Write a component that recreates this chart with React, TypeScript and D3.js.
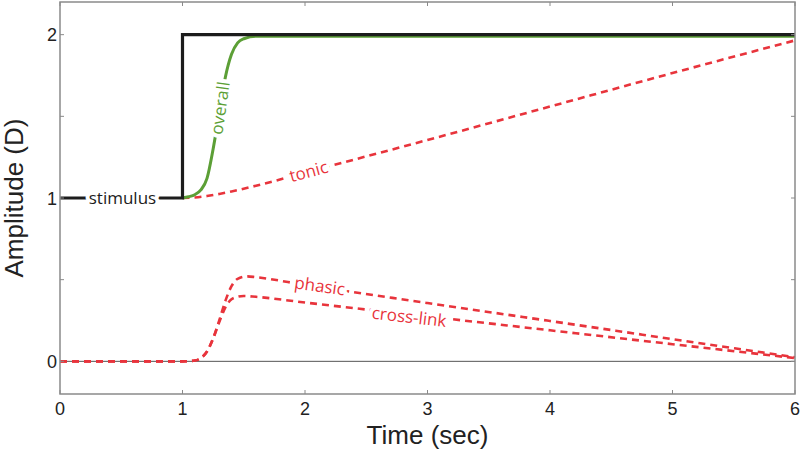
import React, { useEffect, useRef } from "react";
import * as d3 from "d3";

// time (sec) and amplitude (D)
const stimulusT = [0, 1, 1, 6];
const stimulusV = [1, 1, 2, 2];

const overallT = [1, 1.05, 1.1, 1.15, 1.2, 1.25, 1.3, 1.35, 1.4, 1.45, 1.5, 1.6, 1.75, 2, 6];
const overallV = [1, 1.008, 1.02, 1.05, 1.12, 1.3, 1.52, 1.74, 1.88, 1.95, 1.975, 1.99, 1.99, 1.99, 1.99];

const tonicT = [1, 1.1, 1.2, 1.3, 1.4, 1.6, 2, 3, 4, 5, 6];
const tonicV = [1, 1.003, 1.012, 1.025, 1.04, 1.075, 1.155, 1.355, 1.56, 1.765, 1.965];

const phasicT = [0, 1, 1.1, 1.15, 1.2, 1.25, 1.3, 1.35, 1.4, 1.45, 1.53, 1.6, 2, 3, 4, 5, 6];
const phasicV = [0, 0, 0.005, 0.02, 0.06, 0.14, 0.25, 0.37, 0.46, 0.505, 0.52, 0.515, 0.468, 0.357, 0.247, 0.136, 0.025];

const crossT = [0, 1, 1.1, 1.15, 1.2, 1.25, 1.3, 1.35, 1.4, 1.45, 1.5, 1.6, 2, 3, 4, 5, 6];
const crossV = [0, 0, 0.005, 0.02, 0.06, 0.14, 0.24, 0.33, 0.38, 0.395, 0.4, 0.395, 0.36, 0.275, 0.19, 0.105, 0.02];

const xTicks = [0, 1, 2, 3, 4, 5, 6];
const yTicks = [0, 0.5, 1, 1.5, 2];
const yTickLabels = [0, 1, 2];

const RED = "#e8343c";
const GREEN = "#5c9f36";
const DARK = "#1c1c1c";
const AXIS = "#8a8a8a";

const App = () => {
  const ref = useRef<SVGSVGElement>(null);

  useEffect(() => {
    const W = 800,
      H = 449;
    const left = 60,
      right = 795,
      top = 2,
      bottom = 394;

    const svg = d3.select(ref.current);
    svg.selectAll("*").remove();

    const x = d3.scaleLinear().domain([0, 6]).range([left, right]);
    const y = d3.scaleLinear().domain([-0.2, 2.2]).range([bottom, top]);

    const zip = (ts: number[], vs: number[]) => ts.map((t, i) => [t, vs[i]] as [number, number]);
    const smooth = d3
      .line<[number, number]>()
      .x((d) => x(d[0]))
      .y((d) => y(d[1]))
      .curve(d3.curveMonotoneX);
    const straight = d3
      .line<[number, number]>()
      .x((d) => x(d[0]))
      .y((d) => y(d[1]));

    // zero line
    svg
      .append("line")
      .attr("x1", left)
      .attr("x2", right)
      .attr("y1", y(0))
      .attr("y2", y(0))
      .attr("stroke", "#555")
      .attr("stroke-width", 1);

    // red dashed components
    const dashed = [
      zip(crossT, crossV),
      zip(phasicT, phasicV),
      zip(tonicT, tonicV),
    ];
    dashed.forEach((pts) => {
      svg
        .append("path")
        .attr("d", smooth(pts))
        .attr("fill", "none")
        .attr("stroke", RED)
        .attr("stroke-width", 2.6)
        .attr("stroke-dasharray", "7,5");
    });

    // overall response
    svg
      .append("path")
      .attr("d", smooth(zip(overallT, overallV)))
      .attr("fill", "none")
      .attr("stroke", GREEN)
      .attr("stroke-width", 3);

    // stimulus step
    svg
      .append("path")
      .attr("d", straight(zip(stimulusT, stimulusV)))
      .attr("fill", "none")
      .attr("stroke", DARK)
      .attr("stroke-width", 3.2);

    // inline labels with white halo to break the lines
    const labels = [
      { text: "stimulus", t: 0.51, v: 1, angle: 0, color: DARK },
      { text: "overall", t: 1.31, v: 1.55, angle: -82, color: GREEN },
      { text: "tonic", t: 2.03, v: 1.16, angle: -15, color: RED },
      { text: "phasic", t: 2.12, v: 0.46, angle: 8, color: RED },
      { text: "cross-link", t: 2.85, v: 0.27, angle: 6.5, color: RED },
    ];
    labels.forEach((l) => {
      svg
        .append("text")
        .attr("transform", `translate(${x(l.t)},${y(l.v)}) rotate(${l.angle})`)
        .attr("text-anchor", "middle")
        .attr("dy", "0.33em")
        .attr("font-family", "'Open Sans', sans-serif")
        .attr("font-size", 17)
        .attr("fill", l.color)
        .attr("stroke", "white")
        .attr("stroke-width", 8)
        .attr("paint-order", "stroke")
        .attr("stroke-linejoin", "round")
        .text(l.text);
    });

    // axes box
    svg
      .append("rect")
      .attr("x", left)
      .attr("y", top)
      .attr("width", right - left)
      .attr("height", bottom - top)
      .attr("fill", "none")
      .attr("stroke", AXIS)
      .attr("stroke-width", 1.5);

    // inward ticks
    const tl = 4;
    xTicks.forEach((t) => {
      svg
        .append("line")
        .attr("x1", x(t))
        .attr("x2", x(t))
        .attr("y1", bottom)
        .attr("y2", bottom - tl)
        .attr("stroke", AXIS);
      svg
        .append("line")
        .attr("x1", x(t))
        .attr("x2", x(t))
        .attr("y1", top)
        .attr("y2", top + tl)
        .attr("stroke", AXIS);
    });
    yTicks.forEach((v) => {
      svg
        .append("line")
        .attr("x1", left)
        .attr("x2", left + tl)
        .attr("y1", y(v))
        .attr("y2", y(v))
        .attr("stroke", AXIS);
      svg
        .append("line")
        .attr("x1", right)
        .attr("x2", right - tl)
        .attr("y1", y(v))
        .attr("y2", y(v))
        .attr("stroke", AXIS);
    });

    // tick labels
    const tickFont = "'Liberation Sans', Arial, sans-serif";
    xTicks.forEach((t) => {
      svg
        .append("text")
        .attr("x", x(t))
        .attr("y", 415)
        .attr("text-anchor", "middle")
        .attr("font-family", tickFont)
        .attr("font-size", 18)
        .attr("fill", "#222")
        .text(t);
    });
    yTickLabels.forEach((v) => {
      svg
        .append("text")
        .attr("x", 57)
        .attr("y", y(v) + 6.5)
        .attr("text-anchor", "end")
        .attr("font-family", tickFont)
        .attr("font-size", 18)
        .attr("fill", "#222")
        .text(v);
    });

    // axis titles
    svg
      .append("text")
      .attr("x", (left + right) / 2)
      .attr("y", 444)
      .attr("text-anchor", "middle")
      .attr("font-family", tickFont)
      .attr("font-size", 26)
      .attr("fill", "#222")
      .text("Time (sec)");
    svg
      .append("text")
      .attr("transform", `translate(23,${y(1)}) rotate(-90)`)
      .attr("text-anchor", "middle")
      .attr("font-family", tickFont)
      .attr("font-size", 26)
      .attr("fill", "#222")
      .text("Amplitude (D)");

    svg.attr("width", W).attr("height", H);
  }, []);

  return (
    <svg
      ref={ref}
      width={800}
      height={449}
      style={{ position: "absolute", left: 0, top: 0, background: "white" }}
    />
  );
};

export default App;
